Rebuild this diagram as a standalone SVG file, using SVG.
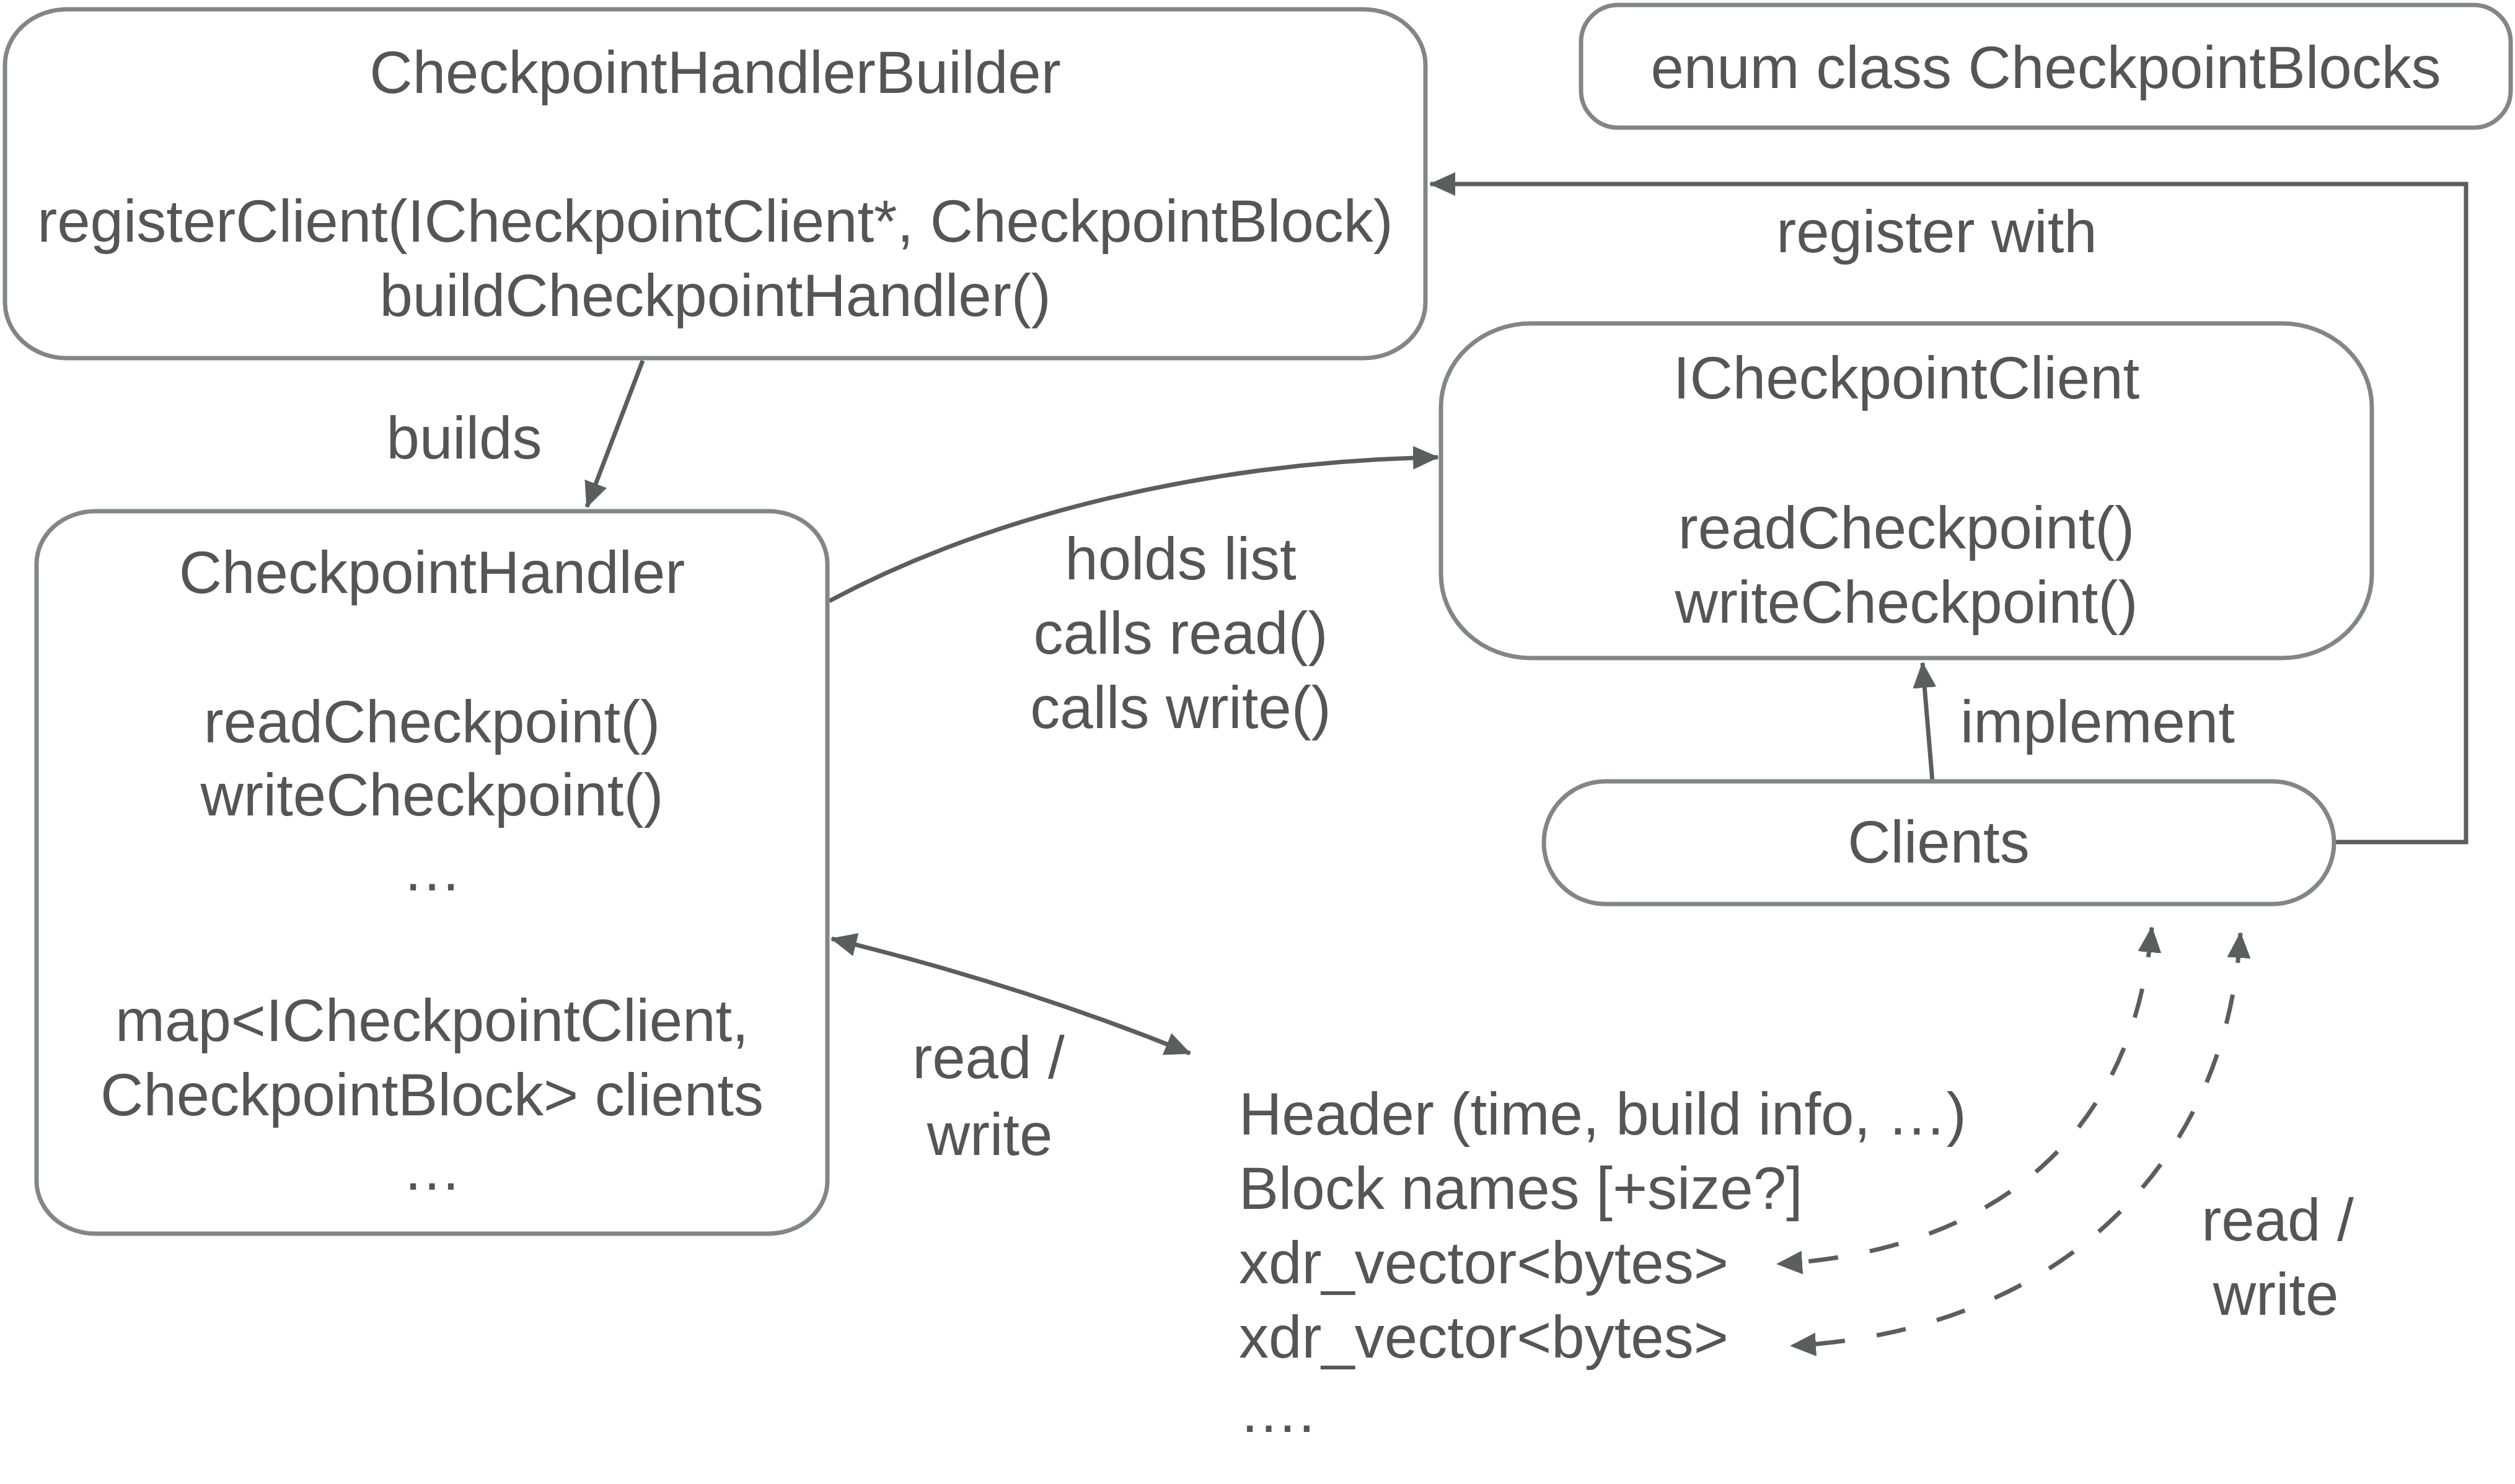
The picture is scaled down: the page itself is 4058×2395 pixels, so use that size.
<svg xmlns="http://www.w3.org/2000/svg" width="4058" height="2395" viewBox="0 0 4058 2395">
<style>
.box{fill:#fff;stroke:#838685;stroke-width:7}
.t{font-family:"Liberation Sans",Arial,sans-serif;font-size:96px;fill:#555}
.c{text-anchor:middle}
.conn{fill:none;stroke:#5c5e5d;stroke-width:7}
.dash{stroke-dasharray:48 52}
</style>
<defs>
<marker id="ah" markerUnits="userSpaceOnUse" markerWidth="42" markerHeight="38" viewBox="0 0 42 38" refX="40" refY="19" orient="auto-start-reverse">
<path d="M0,0 L42,19 L0,38 z" fill="#5c5e5d"/>
</marker>
</defs>
<rect width="4058" height="2395" fill="#fff"/>
<g id="connectors">
<path class="conn" d="M1037,582 L947,818" marker-end="url(#ah)"/>
<path class="conn" d="M1338,970 C1600,830 1950,745 2320,738" marker-end="url(#ah)"/>
<path class="conn" d="M1342,1515 Q1650,1590 1920,1700" marker-start="url(#ah)" marker-end="url(#ah)"/>
<path class="conn" d="M3118,1261 L3102,1070" marker-end="url(#ah)"/>
<path class="conn" d="M3766,1359 L3979,1359 L3979,297 L2308,297" marker-end="url(#ah)"/>
<path class="conn dash" d="M3472,1497 C3440,1850 3200,2020 2868,2040" marker-start="url(#ah)" marker-end="url(#ah)"/>
<path class="conn dash" d="M3615,1506 C3590,1900 3300,2150 2890,2172" marker-start="url(#ah)" marker-end="url(#ah)"/>
<text class="t c" x="749" y="740">builds</text>
<text class="t c" x="1905" y="935">holds list</text>
<text class="t c" x="1905" y="1055">calls read()</text>
<text class="t c" x="1905" y="1175">calls write()</text>
<text class="t c" x="1595" y="1740">read /</text>
<text class="t c" x="1597" y="1864">write</text>
<text class="t c" x="3125" y="407">register with</text>
<text class="t" x="3163" y="1198">implement</text>
<text class="t c" x="3675" y="2002">read /</text>
<text class="t c" x="3672" y="2122">write</text>
</g>
<g id="builder">
<rect class="box" x="8" y="15" width="2292" height="563" rx="100" ry="90"/>
<text class="t c" x="1154" y="150">CheckpointHandlerBuilder</text>
<text class="t c" x="1154" y="390">registerClient(ICheckpointClient*, CheckpointBlock)</text>
<text class="t c" x="1154" y="510">buildCheckpointHandler()</text>
</g>
<g id="enum">
<rect class="box" x="2551" y="8" width="1500" height="198" rx="60" ry="60"/>
<text class="t c" x="3301" y="142">enum class CheckpointBlocks</text>
</g>
<g id="icheckpointclient">
<rect class="box" x="2325" y="522" width="1502" height="540" rx="145" ry="135"/>
<text class="t c" x="3076" y="643">ICheckpointClient</text>
<text class="t c" x="3076" y="885">readCheckpoint()</text>
<text class="t c" x="3076" y="1005">writeCheckpoint()</text>
</g>
<g id="clients">
<rect class="box" x="2491" y="1261" width="1275" height="198" rx="99" ry="99"/>
<text class="t c" x="3128" y="1392">Clients</text>
</g>
<g id="handler">
<rect class="box" x="59" y="825" width="1276" height="1166" rx="95" ry="85"/>
<text class="t c" x="697" y="957">CheckpointHandler</text>
<text class="t c" x="697" y="1198">readCheckpoint()</text>
<text class="t c" x="697" y="1316">writeCheckpoint()</text>
<text class="t c" x="697" y="1437">…</text>
<text class="t c" x="697" y="1680">map&lt;ICheckpointClient,</text>
<text class="t c" x="697" y="1800">CheckpointBlock&gt; clients</text>
<text class="t c" x="697" y="1920">…</text>
</g>
<g id="checkpointfile">
<text class="t" x="1999" y="1831">Header (time, build info, …)</text>
<text class="t" x="1999" y="1951">Block names [+size?]</text>
<text class="t" x="1999" y="2071">xdr_vector&lt;bytes&gt;</text>
<text class="t" x="1999" y="2191">xdr_vector&lt;bytes&gt;</text>
<text class="t" x="1999" y="2311">….</text>
</g>
</svg>
